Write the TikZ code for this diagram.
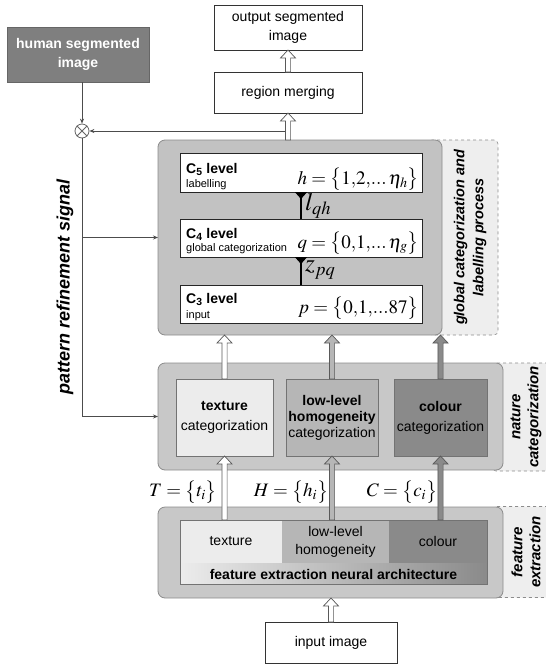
\documentclass[tikz,border=0pt]{standalone}
\usepackage{mathptmx}
\usepackage[no-math]{fontspec}
\setmainfont{Liberation Sans}
\usetikzlibrary{calc,arrows.meta}

\definecolor{panelgray}{HTML}{C2C2C2}
\definecolor{natgray}{HTML}{C8C8C8}
\definecolor{edgegray}{HTML}{8C8C8C}
\definecolor{sidegray}{HTML}{EEEEEE}
\definecolor{lightcell}{HTML}{ECECEC}
\definecolor{midcell}{HTML}{B6B6B6}
\definecolor{darkcell}{HTML}{8A8A8A}
\definecolor{humangray}{HTML}{7F7F7F}

% hollow block arrow pointing upwards: #1 tail, #2 tip, #3 fill
\newcommand\fatarrow[3]{%
  \filldraw[fill=#3, draw=black!65, line width=0.7pt]
    let \p1=#1, \p2=#2 in
    ({\x1-2.6pt},\y1) -- ({\x1-2.6pt},{\y2-8pt}) -- ({\x1-7.5pt},{\y2-8pt})
    -- (\x1,\y2) -- ({\x1+7.5pt},{\y2-8pt}) -- ({\x1+2.6pt},{\y2-8pt})
    -- ({\x1+2.6pt},\y1) -- cycle;}

% compact set notation
\newcommand\tightset[1]{\bigl\{#1\bigr\}}

\tikzset{
  txt/.style={font=\fontsize{14}{16}\selectfont},
  plainbox/.style={draw=black!80, fill=white, line width=0.8pt, inner sep=1pt, outer sep=0pt},
  panel/.style={draw=edgegray, fill=panelgray, rounded corners=7pt, line width=0.8pt, outer sep=0pt},
  sidebox/.style={draw=edgegray, dashed, fill=sidegray, rounded corners=4pt, line width=0.6pt},
  levelbox/.style={draw=black!85, fill=white, line width=0.8pt, outer sep=0pt},
  cell/.style={draw=black!55, line width=0.8pt, inner sep=1pt, outer sep=0pt, align=center},
  sidetext/.style={rotate=90, align=center, font=\bfseries\itshape\fontsize{15}{18}\selectfont},
  mathlbl/.style={inner sep=0pt, font=\fontsize{19}{21}\selectfont},
  linklbl/.style={inner sep=0pt, anchor=west, font=\fontsize{25}{26}\selectfont},
  levtitle/.style={anchor=base west, inner sep=0pt, font=\bfseries\fontsize{14}{16}\selectfont},
  levsub/.style={anchor=base west, inner sep=0pt, font=\fontsize{11}{12}\selectfont},
  synapse/.style={line width=1.6pt, -{Triangle[reversed, length=7pt, width=12pt]}},
  feed/.style={draw=black!70, line width=0.8pt, -{Stealth[length=5pt, width=4pt]}},
  feedline/.style={draw=black!70, line width=0.8pt}
}

\begin{document}
\begin{tikzpicture}[x=1pt, y=-1pt]
\useasboundingbox (0,0) rectangle (546,665);

% dashed side panels with their captions
\node[sidebox, minimum width=70pt, minimum height=195pt] (gside) at (463,237.5) {};
\node[sidebox, minimum width=60pt, minimum height=108pt] (nside) at (522,417) {};
\node[sidebox, minimum width=60pt, minimum height=91pt] (fside) at (522,552) {};
\node[sidetext, font=\bfseries\itshape\fontsize{14.5}{19}\selectfont] (gtext) at (470,237.5) {global categorization and\\labelling process};
\node[sidetext] (ntext) at (526,417) {nature\\categorization};
\node[sidetext] (ftext) at (526,552) {feature\\extraction};

% grey panels
\node[panel, minimum width=284pt, minimum height=195pt] (big) at (300,237.5) {};
\node[panel, fill=natgray, minimum width=345pt, minimum height=107pt] (nat) at (330.5,416.5) {};
\node[panel, fill=natgray, minimum width=345pt, minimum height=91pt] (feat) at (330.5,552.5) {};

% top boxes
\node[plainbox, minimum width=148pt, minimum height=45pt, align=center, font=\fontsize{14}{19}\selectfont] (out) at (288,27.5) {output segmented\\image};
\node[plainbox, minimum width=148pt, minimum height=41pt, txt] (merge) at (288,92.5) {region merging};
\node[draw=black!60, fill=humangray, text=white, line width=0.8pt, minimum width=142pt, minimum height=55pt, align=center, font=\bfseries\fontsize{14}{19}\selectfont] (human) at (78,54.5) {human segmented\\image};

% category levels
\node[levelbox, minimum width=242pt, minimum height=39pt] (c5) at (301,172.5) {};
\node[levelbox, minimum width=242pt, minimum height=38pt] (c4) at (301,238) {};
\node[levelbox, minimum width=242pt, minimum height=38pt] (c3) at (301,304) {};

\node[levtitle] (c5a) at (186,173) {C\textsubscript{5} level};
\node[levsub] (c5b) at (186,187) {labelling};
\node[mathlbl, anchor=base east] (c5m) at (419,184) {$h=\tightset{1{,}2{,}...\mkern2mu\eta_{h}}$};

\node[levtitle] (c4a) at (186,238) {C\textsubscript{4} level};
\node[levsub] (c4b) at (186,251) {global categorization};
\node[mathlbl, anchor=base east] (c4m) at (419,248) {$q=\tightset{0{,}1{,}...\mkern2mu\eta_{g}}$};

\node[levtitle] (c3a) at (186,303) {C\textsubscript{3} level};
\node[levsub] (c3b) at (186,318) {input};
\node[mathlbl, anchor=base east] (c3m) at (419,313) {$p=\tightset{0{,}1{,}...87}$};

\draw[synapse] (c4.north) -- (c5.south);
\draw[synapse] (c3.north) -- (c4.south);
\node[linklbl] (lqh) at (305,206) {$l_{qh}$};
\node[linklbl] (zpq) at (305,270) {$z_{pq}$};

% nature categorization cells
\node[cell, fill=lightcell, minimum width=97pt, minimum height=77pt, font=\fontsize{14}{20}\selectfont] (tex) at (224.5,417.5) {\textbf{texture}\\categorization};
\node[cell, fill=midcell, minimum width=92pt, minimum height=77pt, font=\fontsize{14}{16}\selectfont] (hom) at (332,417.5) {\textbf{low-level}\\\textbf{homogeneity}\\categorization};
\node[cell, fill=darkcell, minimum width=93pt, minimum height=77pt, font=\fontsize{14}{20}\selectfont] (col) at (440.5,417.5) {\textbf{colour}\\categorization};

% feature extraction architecture
\node[draw=black!55, line width=0.8pt, minimum width=307pt, minimum height=64pt, outer sep=0pt,
      left color=lightcell, middle color=midcell, right color=darkcell] (arch) at (333.5,552) {};
\node[fill=lightcell, anchor=north west, minimum width=102pt, minimum height=43pt, inner sep=0pt, outer sep=0pt, txt] (ftex) at (180,520) {texture};
\node[fill=midcell, anchor=north west, minimum width=107pt, minimum height=43pt, inner sep=0pt, outer sep=0pt, align=center, font=\fontsize{14}{18}\selectfont] (fhom) at (282,520) {low-level\\homogeneity};
\node[fill=darkcell, anchor=north west, minimum width=98pt, minimum height=43pt, inner sep=0pt, outer sep=0pt, txt] (fcol) at (389,520) {colour};
\draw[draw=black!55, line width=0.8pt] (arch.north west) rectangle (arch.south east);
\node[inner sep=0pt, font=\bfseries\fontsize{14}{16}\selectfont] (archlbl) at (333.5,574) {feature extraction neural architecture};

% input
\node[plainbox, minimum width=132pt, minimum height=41pt, txt] (inp) at (331,642.5) {input image};

% feature sets
\node[mathlbl] (tset) at (183,492) {$T=\tightset{t_i}$};
\node[mathlbl] (hset) at (291,492) {$H=\tightset{h_i}$};
\node[mathlbl] (cset) at (402,492) {$C=\tightset{c_i}$};

% refinement feedback loop
\node[circle, draw=black!60, fill=white, minimum size=14pt, inner sep=0pt, line width=0.8pt] (sum) at (82,131) {};
\draw[draw=black!60, line width=0.8pt] (sum.north west) -- (sum.south east) (sum.north east) -- (sum.south west);
\coordinate (tap) at (merge.south |- sum);
\coordinate (bend) at (sum |- nat.west);
\draw[feed] (tap) -- (sum.east);
\draw[feed] (human.south -| sum) -- (sum.north);
\draw[feedline] (sum.south) -- (bend);
\draw[feed] (bend) -- (nat.west);
\draw[feed] (sum |- big.west) -- (big.west);
\node[rotate=90, font=\bfseries\itshape\fontsize{18}{20}\selectfont] (prs) at (65,287) {pattern refinement signal};

% block arrows
\fatarrow{(merge.north)}{(out.south)}{white}
\fatarrow{(merge.south |- big.north)}{(merge.south)}{white}
\fatarrow{(tex.north)}{(tex.north |- big.south)}{white}
\fatarrow{(hom.north)}{(hom.north |- big.south)}{midcell}
\fatarrow{(col.north)}{(col.north |- big.south)}{darkcell}
\fatarrow{(tex.south |- ftex.north)}{(tex.south)}{white}
\fatarrow{(hom.south |- fhom.north)}{(hom.south)}{midcell}
\fatarrow{(col.south |- fcol.north)}{(col.south)}{darkcell}
\fatarrow{(inp.north)}{(inp.north |- feat.south)}{white}
\end{tikzpicture}
\end{document}
